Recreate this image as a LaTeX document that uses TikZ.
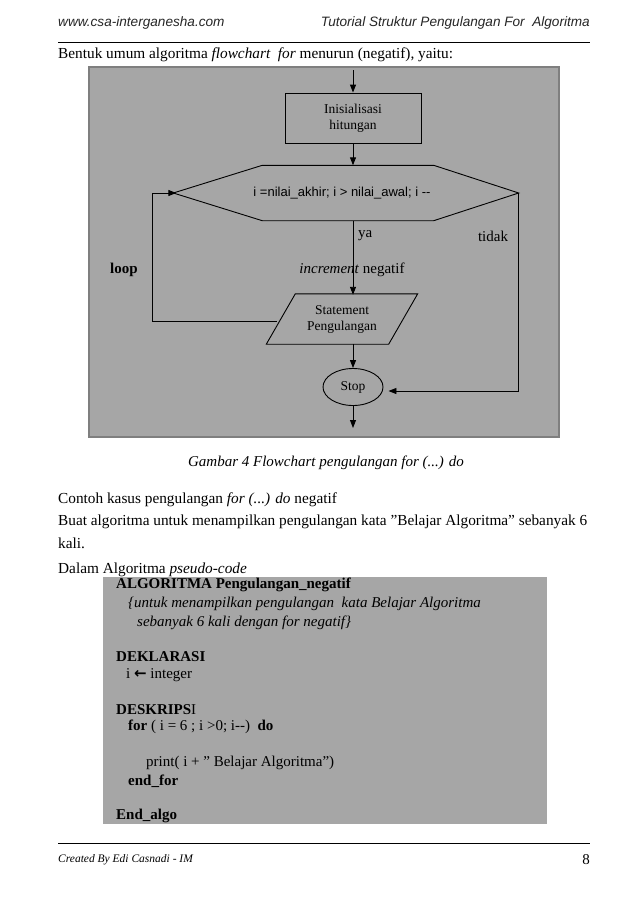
\documentclass[tikz,border=0pt]{standalone}
\usepackage{fontspec}
\setmainfont{Liberation Serif}
\setsansfont{Liberation Sans}
\newfontfamily\arrowfont{DejaVu Sans}
\usetikzlibrary{arrows.meta,shapes.geometric}

\definecolor{boxgray}{HTML}{A6A6A6}
\definecolor{framegray}{HTML}{7F7F7F}

\newcommand{\bodysize}{\fontsize{15.3}{18}\selectfont}
\newcommand{\codesize}{\fontsize{15}{17}\selectfont}
\newcommand{\chartsize}{\fontsize{13.5}{16}\selectfont}

\tikzset{
  header/.style={inner sep=0pt,text=black!85,font=\sffamily\itshape\fontsize{13.6}{16}\selectfont},
  body/.style={anchor=west,inner sep=0pt,font=\bodysize},
  codeline/.style={anchor=west,inner sep=0pt,font=\codesize},
  rule/.style={line width=0.9pt},
  flow/.style={line width=0.9pt},
  process/.style={draw,line width=0.9pt,minimum width=136pt,minimum height=50pt,align=center,font=\chartsize},
  cond/.style={minimum width=345pt,minimum height=55pt,font=\sffamily\fontsize{13}{15}\selectfont},
  iobox/.style={minimum width=122pt,minimum height=50pt,inner sep=0pt,align=center,font=\chartsize},
  terminal/.style={draw,line width=0.9pt,ellipse,minimum width=60pt,minimum height=37pt,inner sep=0pt,font=\chartsize},
  lbl/.style={inner sep=0pt,font=\codesize}
}

\begin{document}
\begin{tikzpicture}[x=1pt,y=-1pt,>={Triangle[length=8pt,width=6pt]}]
\useasboundingbox[fill=white] (0,0) rectangle (638,902);

% Header
\node[header,anchor=west] (site) at (58,23) {www.csa-interganesha.com};
\node[header,anchor=east] (title) at (590,23) {Tutorial Struktur Pengulangan For\ \ Algoritma};
\draw[rule] (58,42) -- (590,42);

\node[body] (intro) at (58,55) {Bentuk umum algoritma \textit{flowchart\ \ for} menurun (negatif), yaitu:};

% Frame
\draw[fill=boxgray,draw=framegray,line width=1.5pt] (89,67) rectangle (559,437);

% Flowchart nodes
\coordinate (start) at (353,70);
\node[process] (init) at (353,118) {Inisialisasi\\hitungan};
\node[cond] (cond) at (346,193) {\hspace*{-8pt}i =nilai\_akhir; i > nilai\_awal; i -{}-};
\draw[flow] (cond.west) -- ([xshift=89pt]cond.north west) -- ([xshift=-85pt]cond.north east)
  -- (cond.east) -- ([xshift=-85pt]cond.south east) -- ([xshift=89pt]cond.south west) -- cycle;
\node[iobox] (stmt) at (342,319) {Statement\\Pengulangan};
\draw[flow] ([xshift=14.5pt]stmt.north west) -- ([xshift=14.5pt]stmt.north east)
  -- ([xshift=-14.5pt]stmt.south east) -- ([xshift=-14.5pt]stmt.south west) -- cycle;
\node[terminal] (stop) at (353,387) {Stop};
\coordinate (finish) at (353,428);
\coordinate (loopx) at (152,0);

% Labels
\node[lbl,anchor=west] (ya) at (358,236) {ya};
\node[lbl] (tidak) at (493,236) {tidak};
\node[lbl,font=\codesize\bfseries] (loop) at (124,270) {loop};
\node[lbl] (incr) at (352,270) {\textit{increment} negatif};

% Connectors
\draw[flow,->] (start) -- (init);
\draw[flow,->] (init) -- (init |- cond.north);
\draw[flow,->] (init |- cond.south) -- ([yshift=-1pt]init |- stmt.north);
\draw[flow,->] (cond.east) |- ([xshift=5pt,yshift=-4pt]stop.east);
\draw[flow,->] (stop |- stmt.south) -- (stop);
\draw[flow,->] (stop) -- (finish);
\draw[flow,->] ([xshift=-4pt,yshift=-2pt]stmt.west) -| (loopx |- cond.west) -- ([xshift=3pt]cond.west);

% Caption and text
\node[font=\codesize\itshape,inner sep=0pt] (caption) at (326,463) {Gambar 4 Flowchart pengulangan for (...) do};
\node[body] (contoh) at (58,500) {Contoh kasus pengulangan \textit{for (...) do} negatif};
\node[body] (buat) at (58,522) {Buat algoritma untuk menampilkan pengulangan kata ”Belajar Algoritma” sebanyak 6};
\node[body] (kali) at (58,543) {kali.};
\node[body] (dalam) at (58,570) {Dalam Algoritma \textit{pseudo-code}};

% Pseudo-code
\fill[boxgray] (103,577) rectangle (547,824);
\node[codeline] (c1) at (116,585) {\textbf{ALGORITMA Pengulangan\_negatif}};
\node[codeline] (c2) at (128,604) {\textit{\{untuk menampilkan pengulangan\ \ kata Belajar Algoritma}};
\node[codeline] (c3) at (137,623) {\textit{sebanyak 6 kali dengan for negatif\}}};
\node[codeline] (c4) at (116,657) {\textbf{DEKLARASI}};
\node[codeline] (c5) at (126,675) {i {\arrowfont\bfseries ←} integer};
\node[codeline] (c6) at (116,710) {\textbf{DESKRIPS}I};
\node[codeline] (c7) at (128,727) {\textbf{for} ( i = 6 ; i >0; i-{}-)\ \ \textbf{do}};
\node[codeline] (c8) at (146,763) {print( i + ” Belajar Algoritma”)};
\node[codeline] (c9) at (128,781) {\textbf{end\_for}};
\node[codeline] (c10) at (116,816) {\textbf{End\_algo}};

% Footer
\draw[rule] (58,843) -- (590,843);
\node[anchor=west,inner sep=0pt,font=\itshape\fontsize{11.5}{14}\selectfont] (author) at (58,860) {Created By Edi Casnadi - IM};
\node[anchor=east,inner sep=0pt,font=\codesize] (page) at (590,860) {8};
\end{tikzpicture}
\end{document}
